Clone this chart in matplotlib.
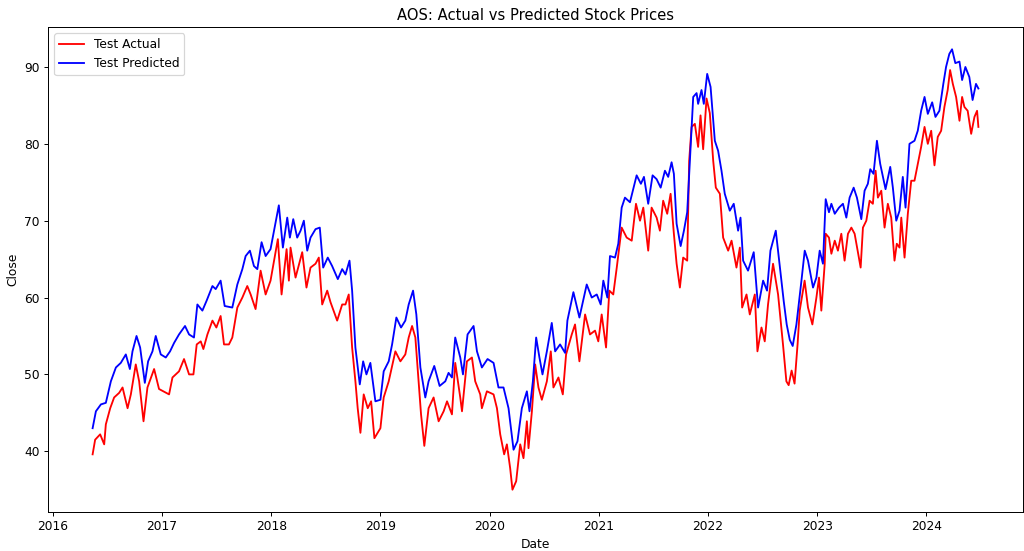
"""
AOS actual vs predicted close prices (test period)
"""
import numpy as np
import pandas as pd
import matplotlib
matplotlib.use('Agg')
import matplotlib.pyplot as plt

TICKER = 'AOS'

# values, time as decimal year
act_year = [2016.366, 2016.389, 2016.435, 2016.472, 2016.487, 2016.527, 2016.563, 2016.609, 2016.640, 2016.686,
            2016.716, 2016.761, 2016.792, 2016.832, 2016.868, 2016.929, 2016.974, 2017.066, 2017.097, 2017.157,
            2017.203, 2017.249, 2017.289, 2017.319, 2017.356, 2017.380, 2017.417, 2017.463, 2017.499, 2017.538,
            2017.569, 2017.614, 2017.645, 2017.691, 2017.737, 2017.782, 2017.813, 2017.858, 2017.904, 2017.950,
            2017.995, 2018.032, 2018.062, 2018.096, 2018.142, 2018.163, 2018.178, 2018.224, 2018.285, 2018.324,
            2018.361, 2018.407, 2018.437, 2018.468, 2018.514, 2018.544, 2018.605, 2018.651, 2018.681, 2018.711,
            2018.742, 2018.772, 2018.793, 2018.818, 2018.848, 2018.885, 2018.916, 2018.946, 2019.001, 2019.031,
            2019.077, 2019.138, 2019.184, 2019.229, 2019.260, 2019.291, 2019.321, 2019.351, 2019.373, 2019.403,
            2019.442, 2019.488, 2019.534, 2019.580, 2019.611, 2019.656, 2019.686, 2019.732, 2019.748, 2019.793,
            2019.839, 2019.869, 2019.915, 2019.930, 2019.976, 2020.037, 2020.068, 2020.098, 2020.134, 2020.159,
            2020.189, 2020.210, 2020.244, 2020.281, 2020.311, 2020.342, 2020.357, 2020.388, 2020.418, 2020.448,
            2020.479, 2020.525, 2020.561, 2020.585, 2020.631, 2020.671, 2020.701, 2020.753, 2020.783, 2020.823,
            2020.875, 2020.920, 2020.966, 2020.996, 2021.027, 2021.067, 2021.097, 2021.133, 2021.165, 2021.210,
            2021.256, 2021.302, 2021.341, 2021.378, 2021.408, 2021.453, 2021.484, 2021.530, 2021.560, 2021.590,
            2021.627, 2021.658, 2021.688, 2021.713, 2021.743, 2021.773, 2021.810, 2021.828, 2021.850, 2021.880,
            2021.910, 2021.932, 2021.956, 2021.987, 2022.017, 2022.048, 2022.072, 2022.109, 2022.139, 2022.185,
            2022.216, 2022.261, 2022.292, 2022.313, 2022.353, 2022.383, 2022.429, 2022.453, 2022.490, 2022.520,
            2022.550, 2022.596, 2022.642, 2022.687, 2022.718, 2022.739, 2022.766, 2022.793, 2022.821, 2022.840,
            2022.885, 2022.916, 2022.956, 2022.993, 2023.017, 2023.038, 2023.069, 2023.078, 2023.108, 2023.130,
            2023.161, 2023.190, 2023.221, 2023.251, 2023.282, 2023.313, 2023.343, 2023.398, 2023.419, 2023.450,
            2023.480, 2023.510, 2023.535, 2023.556, 2023.587, 2023.617, 2023.647, 2023.678, 2023.708, 2023.729,
            2023.754, 2023.770, 2023.800, 2023.830, 2023.861, 2023.891, 2023.921, 2023.952, 2023.983, 2024.013,
            2024.044, 2024.074, 2024.104, 2024.135, 2024.165, 2024.195, 2024.217, 2024.242, 2024.272, 2024.303,
            2024.327, 2024.348, 2024.378, 2024.410, 2024.440, 2024.464, 2024.476]
act_close = [39.6, 41.5, 42.2, 40.9, 43.5, 45.6, 47.0, 47.6, 48.3, 45.6,
             47.4, 51.3, 49.1, 43.9, 48.3, 50.7, 48.1, 47.4, 49.6, 50.4,
             52.0, 50.0, 50.0, 53.9, 54.3, 53.3, 55.2, 57.0, 56.1, 57.6,
             53.9, 53.9, 54.8, 58.7, 60.0, 61.5, 60.4, 58.5, 63.5, 60.4,
             62.2, 65.2, 67.6, 60.4, 66.3, 62.2, 66.5, 62.6, 65.9, 61.3,
             63.9, 64.4, 65.2, 59.1, 60.9, 59.4, 57.0, 59.1, 59.1, 60.4,
             53.5, 49.1, 45.6, 42.4, 47.4, 45.6, 46.5, 41.7, 43.0, 47.0,
             49.1, 53.0, 51.7, 52.6, 54.8, 56.3, 54.8, 49.1, 44.8, 40.7,
             45.6, 47.0, 43.9, 45.2, 46.5, 44.8, 51.5, 47.0, 45.2, 51.7,
             52.2, 49.1, 47.4, 45.6, 47.8, 47.4, 45.6, 42.2, 39.6, 40.9,
             37.8, 35.0, 36.1, 40.9, 39.1, 43.9, 40.4, 45.2, 51.3, 48.3,
             46.7, 49.1, 53.0, 48.3, 49.6, 47.4, 52.6, 55.2, 56.5, 51.7,
             57.8, 55.2, 55.7, 54.3, 57.8, 53.5, 60.9, 60.4, 63.9, 69.1,
             67.8, 67.4, 72.2, 70.0, 71.7, 66.1, 71.7, 70.4, 68.7, 72.6,
             70.9, 73.5, 68.3, 64.4, 61.3, 65.2, 64.8, 77.8, 82.2, 82.6,
             79.6, 83.7, 79.3, 85.9, 84.0, 77.8, 74.3, 73.5, 67.8, 66.1,
             67.4, 63.9, 66.5, 58.7, 60.4, 57.8, 60.4, 53.0, 56.1, 54.3,
             59.1, 64.4, 60.4, 53.9, 49.1, 48.6, 50.5, 48.8, 54.0, 58.3,
             62.2, 58.7, 56.5, 60.0, 62.6, 58.3, 64.4, 68.3, 67.8, 65.7,
             67.4, 66.1, 68.3, 64.8, 68.3, 69.1, 68.3, 63.9, 69.1, 70.0,
             72.6, 72.2, 76.5, 73.0, 73.9, 69.1, 72.2, 70.4, 64.8, 67.0,
             66.5, 70.4, 65.2, 70.9, 75.2, 75.2, 77.4, 79.6, 82.2, 80.0,
             81.7, 77.2, 80.9, 81.7, 84.8, 87.0, 89.6, 87.8, 86.1, 83.0,
             86.1, 84.8, 84.3, 81.3, 83.5, 84.3, 82.2]

pred_year = [2016.366, 2016.396, 2016.442, 2016.487, 2016.533, 2016.579, 2016.624, 2016.670, 2016.707, 2016.731,
             2016.768, 2016.801, 2016.844, 2016.874, 2016.914, 2016.944, 2016.990, 2017.036, 2017.075, 2017.112,
             2017.157, 2017.212, 2017.249, 2017.294, 2017.325, 2017.371, 2017.410, 2017.463, 2017.493, 2017.538,
             2017.575, 2017.645, 2017.691, 2017.737, 2017.767, 2017.806, 2017.843, 2017.874, 2017.913, 2017.950,
             2017.995, 2018.032, 2018.071, 2018.108, 2018.148, 2018.172, 2018.203, 2018.239, 2018.270, 2018.300,
             2018.331, 2018.361, 2018.407, 2018.446, 2018.477, 2018.519, 2018.559, 2018.611, 2018.651, 2018.681,
             2018.718, 2018.742, 2018.772, 2018.812, 2018.843, 2018.873, 2018.909, 2018.955, 2019.001, 2019.031,
             2019.077, 2019.108, 2019.147, 2019.190, 2019.229, 2019.260, 2019.300, 2019.330, 2019.367, 2019.412,
             2019.442, 2019.494, 2019.543, 2019.595, 2019.625, 2019.656, 2019.686, 2019.732, 2019.757, 2019.799,
             2019.854, 2019.885, 2019.930, 2019.982, 2020.037, 2020.082, 2020.128, 2020.174, 2020.220, 2020.256,
             2020.296, 2020.342, 2020.366, 2020.397, 2020.427, 2020.457, 2020.485, 2020.525, 2020.570, 2020.601,
             2020.646, 2020.692, 2020.713, 2020.768, 2020.823, 2020.890, 2020.936, 2020.982, 2021.018, 2021.042,
             2021.079, 2021.103, 2021.149, 2021.179, 2021.210, 2021.240, 2021.286, 2021.347, 2021.386, 2021.414,
             2021.453, 2021.493, 2021.530, 2021.567, 2021.606, 2021.636, 2021.667, 2021.688, 2021.713, 2021.750,
             2021.780, 2021.810, 2021.835, 2021.865, 2021.896, 2021.910, 2021.941, 2021.962, 2021.993, 2022.024,
             2022.063, 2022.093, 2022.124, 2022.154, 2022.200, 2022.236, 2022.276, 2022.298, 2022.322, 2022.367,
             2022.419, 2022.459, 2022.505, 2022.541, 2022.572, 2022.621, 2022.658, 2022.694, 2022.721, 2022.749,
             2022.776, 2022.810, 2022.856, 2022.886, 2022.916, 2022.962, 2022.993, 2023.023, 2023.053, 2023.078,
             2023.108, 2023.130, 2023.161, 2023.200, 2023.236, 2023.267, 2023.297, 2023.334, 2023.364, 2023.404,
             2023.434, 2023.464, 2023.486, 2023.516, 2023.547, 2023.577, 2023.626, 2023.669, 2023.693, 2023.724,
             2023.754, 2023.784, 2023.809, 2023.845, 2023.891, 2023.921, 2023.952, 2023.983, 2024.013, 2024.053,
             2024.083, 2024.119, 2024.155, 2024.180, 2024.210, 2024.235, 2024.265, 2024.303, 2024.327, 2024.357,
             2024.393, 2024.423, 2024.454, 2024.476]
pred_close = [43.0, 45.2, 46.1, 46.3, 49.1, 50.9, 51.5, 52.6, 50.7, 53.0,
              55.0, 53.5, 48.9, 51.7, 53.0, 55.0, 52.6, 52.2, 53.0, 54.1,
              55.2, 56.3, 55.2, 54.8, 59.1, 58.3, 59.6, 61.5, 61.1, 62.2,
              58.9, 58.7, 61.7, 63.7, 65.4, 66.1, 64.1, 63.7, 67.2, 65.4,
              66.3, 69.1, 72.0, 66.5, 70.4, 67.8, 70.2, 67.8, 68.7, 70.0,
              66.1, 67.8, 68.9, 69.1, 63.9, 65.2, 64.1, 62.4, 63.7, 63.0,
              64.8, 60.9, 53.5, 48.7, 51.7, 50.0, 51.5, 46.5, 46.7, 50.4,
              51.7, 53.9, 57.4, 56.1, 57.0, 59.1, 60.9, 57.8, 50.9, 47.0,
              49.1, 51.1, 48.5, 49.1, 50.2, 49.6, 54.8, 52.2, 50.0, 55.2,
              56.3, 53.0, 50.9, 52.0, 51.5, 48.3, 48.3, 45.6, 40.2, 41.3,
              45.6, 47.8, 45.2, 49.1, 54.8, 52.2, 50.0, 53.0, 56.7, 53.0,
              53.9, 52.8, 57.0, 60.7, 57.4, 61.7, 60.0, 60.4, 59.1, 62.2,
              60.0, 65.4, 65.2, 67.0, 71.7, 73.0, 72.4, 75.9, 74.8, 75.7,
              72.2, 75.9, 75.4, 74.3, 76.5, 75.7, 77.6, 76.1, 69.6, 66.7,
              68.7, 71.1, 77.8, 86.1, 86.6, 85.2, 87.0, 85.2, 89.1, 87.4,
              80.4, 79.1, 76.5, 73.5, 71.3, 72.2, 68.7, 70.4, 64.8, 63.5,
              65.9, 58.7, 62.2, 60.9, 66.1, 68.7, 64.0, 59.5, 56.5, 54.5,
              53.7, 56.5, 62.2, 66.1, 64.8, 61.3, 62.6, 66.1, 64.4, 72.8,
              71.1, 72.2, 70.9, 71.7, 72.2, 70.4, 73.0, 74.3, 73.0, 70.2,
              73.9, 74.8, 76.7, 76.1, 80.4, 77.4, 74.1, 77.0, 74.3, 70.0,
              71.3, 75.7, 71.7, 80.0, 80.4, 81.7, 84.3, 86.1, 83.9, 85.4,
              83.5, 84.3, 87.8, 90.0, 91.7, 92.3, 90.5, 90.7, 88.3, 90.0,
              88.7, 85.7, 87.8, 87.2]


def to_dates(years):
    years = np.asarray(years)
    return pd.Timestamp('2016-01-01') + pd.to_timedelta((years - 2016) * 365.25, unit='D')


if __name__ == "__main__":
    W = 11.6
    plt.figure(figsize=(W, W * 551 / 1024))
    plt.plot(to_dates(act_year), act_close, color='red', linewidth=1.5, label='Test Actual')
    plt.plot(to_dates(pred_year), pred_close, color='blue', linewidth=1.5, label='Test Predicted')
    plt.title(f"{TICKER}: Actual vs Predicted Stock Prices")
    plt.xlabel("Date"); plt.ylabel("Close")
    plt.legend(loc='upper left')
    plt.subplots_adjust(left=0.0472, right=0.9987, top=0.9505, bottom=0.0713)
    plt.savefig('out.png', dpi=1024 / W); plt.close()
